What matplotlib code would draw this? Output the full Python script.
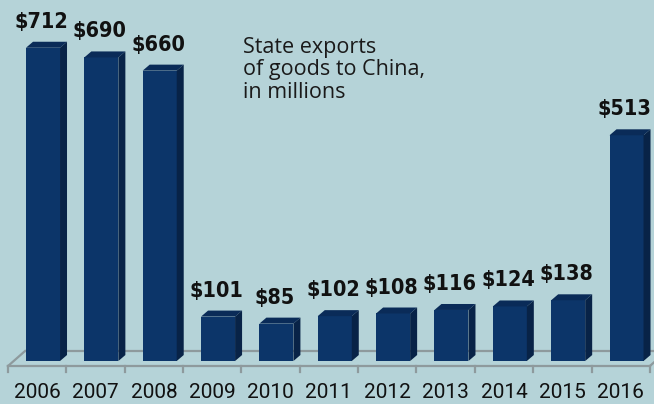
import matplotlib
matplotlib.use("Agg")
import matplotlib.pyplot as plt
from matplotlib.patches import Polygon

years = ["2006", "2007", "2008", "2009", "2010", "2011", "2012", "2013", "2014", "2015", "2016"]
values = [712, 690, 660, 101, 85, 102, 108, 116, 124, 138, 513]
value_labels = ["$712", "$690", "$660", "$101", "$85", "$102", "$108", "$116", "$124", "$138", "$513"]
title_text = "State exports\nof goods to China,\nin millions"

BG = "#b5d3d8"
FRONT = "#0c3569"
SIDE = "#082347"
TOP = "#0a2b58"
FLOOR = "#8e9a9d"

fig = plt.figure(figsize=(6.54, 4.04), dpi=100)
fig.patch.set_facecolor(BG)
ax = fig.add_axes([0, 0, 1, 1])
ax.set_facecolor(BG)
ax.set_xlim(-0.737, 10.471)
ax.set_ylim(-97.7, 820.5)
ax.axis("off")

n = len(values)
w = 0.583
dx = 0.12
dy = 13.6

# floor
back_y, front_y, tick_y = 22.7, -11.4, -25
left_front, left_back = -0.6, -0.308
right_front = -0.6 + n
ax.plot([left_back, 11.0], [back_y, back_y], color=FLOOR, lw=1.6, zorder=1, solid_capstyle="butt")
ax.plot([left_front, right_front], [front_y, front_y], color=FLOOR, lw=1.6, zorder=1)
ax.plot([left_front, left_back], [front_y, back_y], color=FLOOR, lw=1.6, zorder=1)
ax.plot([right_front, right_front + 0.29], [front_y, back_y], color=FLOOR, lw=1.6, zorder=1)
for k in range(n + 1):
    ax.plot([-0.6 + k, -0.6 + k], [front_y, tick_y], color=FLOOR, lw=1.6, zorder=1)

for i, v in enumerate(values):
    x0, x1 = i - w / 2, i + w / 2
    ax.bar(i, v, width=w, color=FRONT, zorder=3, linewidth=0)
    ax.add_patch(Polygon([(x0, v), (x0 + dx, v + dy), (x1 + dx, v + dy), (x1, v)],
                         closed=True, facecolor=TOP, edgecolor="none", zorder=3))
    ax.add_patch(Polygon([(x1, 0), (x1, v), (x1 + dx, v + dy), (x1 + dx, dy)],
                         closed=True, facecolor=SIDE, edgecolor="none", zorder=3))
    ax.annotate(value_labels[i], (i - 0.03, v), xytext=(0, 11.5), textcoords="offset points",
                ha="center", va="bottom", fontsize=15.5, fontweight="bold", fontstretch="condensed",
                family=["DejaVu Sans"], color="#111111", zorder=5)
    ax.text(i - 0.1, -71.6, years[i], ha="center", va="center", fontsize=15,
            family=["Roboto", "DejaVu Sans"], color="#111111")

fig.text(243 / 654, 1 - 37 / 404, title_text, ha="left", va="top", fontsize=15.5,
         family=["Open Sans", "DejaVu Sans"], color="#1a1a1a", linespacing=1.08)

fig.savefig("out.png", dpi=100, facecolor=BG)
